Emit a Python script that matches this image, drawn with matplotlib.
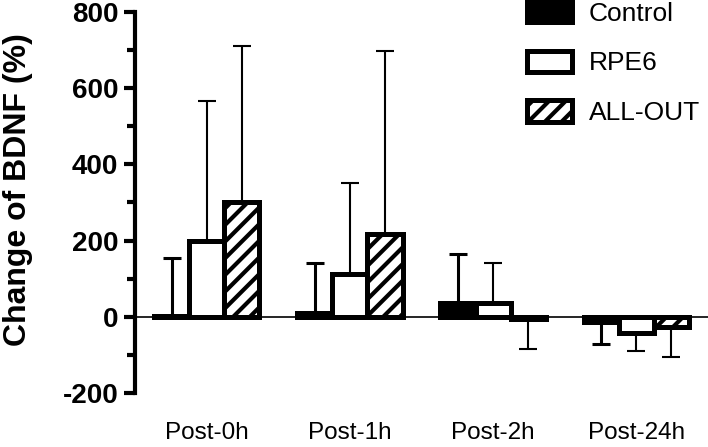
import numpy as np
import matplotlib.pyplot as plt

plt.rcParams['font.family'] = ['Liberation Sans', 'DejaVu Sans']
plt.rcParams['hatch.linewidth'] = 3.0
plt.rcParams['axes.unicode_minus'] = False

# ---- data (mean and one-sided SD) ----
groups = ['Post-0h', 'Post-1h', 'Post-2h', 'Post-24h']
control = [2, 10, 36, -14]
control_sd = [152, 131, 130, 58]
rpe6 = [200, 112, 36, -42]
rpe6_sd = [367, 238, 104, 48]
allout = [300, 216, -7, -27]
allout_sd = [410, 481, 77, 79]

x = np.arange(len(groups))
w = 0.245

fig = plt.figure(figsize=(7.08, 4.47), dpi=100)
ax = fig.add_axes([0.1907, 0.1208, 0.8093, 0.8524])


def one_sided(mean, sd):
    # error bar only on the side away from zero
    lo = [s if m < 0 else 0 for m, s in zip(mean, sd)]
    hi = [s if m >= 0 else 0 for m, s in zip(mean, sd)]
    return [lo, hi]


series = [
    (control, control_sd, 'Control', dict(facecolor='black'), 2.2),
    (rpe6, rpe6_sd, 'RPE6', dict(facecolor='white'), 1.5),
    (allout, allout_sd, 'ALL-OUT', dict(facecolor='white', hatch='//'), 1.5),
]

for i, (mean, sd, lab, style, elw) in enumerate(series):
    pos = x + (i - 1) * w
    ax.bar(pos, mean, width=w, edgecolor='black', linewidth=3.6,
           label=lab, zorder=3, **style)
    ax.errorbar(pos, mean, yerr=one_sided(mean, sd), fmt='none',
                ecolor='black', elinewidth=elw, capsize=6.5,
                capthick=elw, zorder=2)

ax.axhline(0, color='black', lw=1.2, zorder=4)

ax.set_xlim(-0.5, 3.5)
ax.set_ylim(-200, 800)
ax.set_yticks(np.arange(-200, 801, 200))
ax.set_yticks(np.arange(-100, 801, 200), minor=True)
ax.set_xticks(x)
ax.set_xticklabels(groups, fontsize=17.5)
ax.tick_params(axis='x', length=0, pad=21)
ax.tick_params(axis='y', which='major', length=8, width=3, labelsize=20, pad=4)
ax.tick_params(axis='y', which='minor', length=6, width=3)
for lbl in ax.get_yticklabels():
    lbl.set_fontweight('bold')

ax.spines['top'].set_visible(False)
ax.spines['right'].set_visible(False)
ax.spines['bottom'].set_visible(False)
ax.spines['left'].set_linewidth(3)

ax.set_ylabel('Change of BDNF (%)', fontsize=23, fontweight='bold')
ax.yaxis.set_label_coords(-0.178, 0.533)

leg = ax.legend(loc='upper left', bbox_to_anchor=(527 / 708, 1 - 1 / 447),
                bbox_transform=fig.transFigure, frameon=False, fontsize=19,
                handlelength=1.7, handleheight=0.85, labelspacing=0.95,
                handletextpad=0.65, borderpad=0, borderaxespad=0)

fig.savefig('out.png', dpi=100)
